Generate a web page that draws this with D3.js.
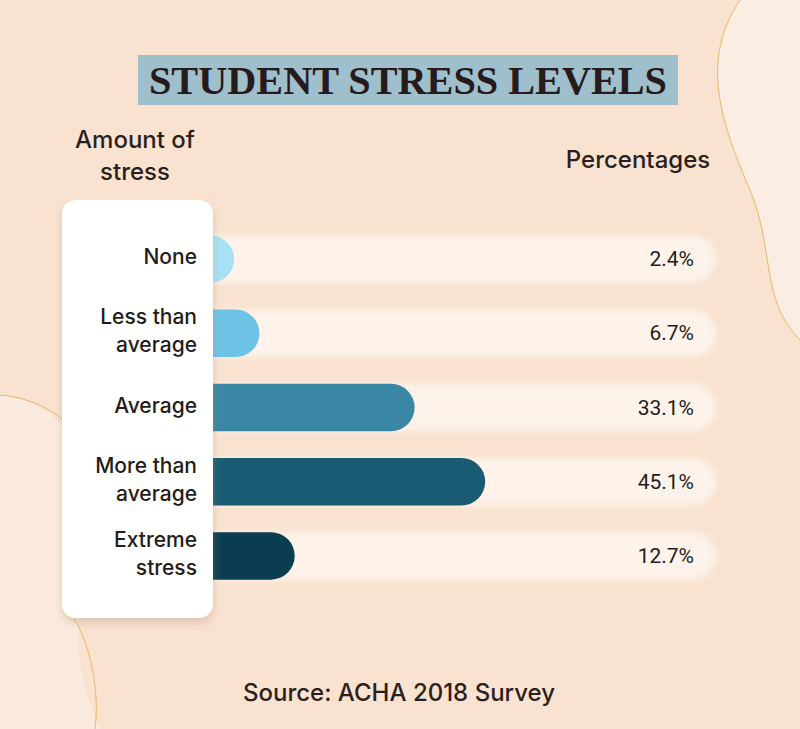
<!DOCTYPE html>
<html lang="en">
  <head>
    <meta charset="UTF-8" />
    <title>Student Stress Levels</title>
    <style>
      body { margin: 0; background: #f9e2d0; }
      svg { display: block; }
    </style>
  </head>
  <body>
    <div id="chart"></div>

    <script src="https://cdn.jsdelivr.net/npm/d3@7"></script>

    <script>
      // data
      const categories = ["None", "Less than average", "Average", "More than average", "Extreme stress"];
      const labelLines = [["None"], ["Less than", "average"], ["Average"], ["More than", "average"], ["Extreme", "stress"]];
      const values = [2.4, 6.7, 33.1, 45.1, 12.7];
      const barColors = ["#a8e1f6", "#6cc3e5", "#3a86a5", "#195b73", "#0b3d51"];

      const width = 800;
      const height = 729;
      const panelLeft = 62, panelRight = 213;
      const trackEnd = 716;

      const svg = d3.select("#chart").append("svg")
          .attr("width", width)
          .attr("height", height)
          .attr("viewBox", [0, 0, width, height]);

      const defs = svg.append("defs");
      const shadow = defs.append("filter").attr("id", "shadow")
          .attr("x", "-20%").attr("y", "-10%").attr("width", "140%").attr("height", "130%");
      shadow.append("feDropShadow")
          .attr("dx", 0).attr("dy", 5).attr("stdDeviation", 5)
          .attr("flood-color", "#b08a70").attr("flood-opacity", 0.35);
      const soft = defs.append("filter").attr("id", "soft");
      soft.append("feGaussianBlur").attr("stdDeviation", 3);

      // background with decorative blobs
      svg.append("rect").attr("width", width).attr("height", height).attr("fill", "#f9e2d0");
      svg.append("path")
          .attr("d", "M740,0 C700,60 720,120 750,190 C775,250 760,300 800,340 L800,0 Z")
          .attr("fill", "#fcede2");
      svg.append("path")
          .attr("d", "M0,395 C60,400 110,460 90,560 C75,620 70,660 100,729 L0,729 Z")
          .attr("fill", "#fbebdf");
      svg.append("path")
          .attr("d", "M740,0 C700,60 720,120 750,190 C775,250 760,300 800,340")
          .attr("fill", "none").attr("stroke", "#e6b86a").attr("stroke-width", 1);
      svg.append("path")
          .attr("d", "M0,395 C40,398 70,420 85,445")
          .attr("fill", "none").attr("stroke", "#e6b86a").attr("stroke-width", 1);
      svg.append("path")
          .attr("d", "M70,612 C90,640 100,690 95,729")
          .attr("fill", "none").attr("stroke", "#e6b86a").attr("stroke-width", 1);

      // title
      svg.append("rect")
          .attr("x", 138).attr("y", 55).attr("width", 540).attr("height", 50)
          .attr("fill", "#9fbfcc");
      svg.append("text")
          .attr("x", 408).attr("y", 94)
          .attr("text-anchor", "middle")
          .attr("font-family", "'Liberation Serif', 'DejaVu Serif', serif")
          .attr("font-weight", "bold")
          .attr("font-size", 40)
          .attr("textLength", 518)
          .attr("lengthAdjust", "spacingAndGlyphs")
          .attr("fill", "#261a1a")
          .text("STUDENT STRESS LEVELS");

      // column headers
      const header = svg.append("g")
          .attr("font-family", "Inter, 'Noto Sans', sans-serif")
          .attr("font-weight", 500)
          .attr("font-size", 24)
          .attr("fill", "#2a1f1c")
          .attr("text-anchor", "middle");
      header.append("text").attr("x", 135).attr("y", 148).text("Amount of");
      header.append("text").attr("x", 135).attr("y", 180).text("stress");
      header.append("text").attr("x", 638).attr("y", 168).text("Percentages");

      // scales
      const y = d3.scaleBand(categories, [222, 593]).paddingInner(0.36).paddingOuter(0.18);
      const x = d3.scaleLinear([0, 50], [220, 514]);
      const r = y.bandwidth() / 2;

      // tracks
      svg.append("g")
          .selectAll("rect")
          .data(categories)
          .join("rect")
            .attr("x", panelRight - 30)
            .attr("y", d => y(d))
            .attr("width", trackEnd - panelRight + 30)
            .attr("height", y.bandwidth())
            .attr("rx", r)
            .attr("fill", "#fdf3ea")
            .attr("filter", "url(#soft)");

      // value bars
      svg.append("g")
          .selectAll("rect")
          .data(values)
          .join("rect")
            .attr("x", panelRight - 30)
            .attr("y", (d, i) => y(categories[i]))
            .attr("width", d => x(d) - panelRight + 30)
            .attr("height", y.bandwidth())
            .attr("rx", r)
            .attr("fill", (d, i) => barColors[i]);

      // white label panel, covers the left end of the bars
      svg.append("rect")
          .attr("x", panelLeft).attr("y", 200)
          .attr("width", panelRight - panelLeft).attr("height", 418)
          .attr("rx", 14)
          .attr("fill", "#ffffff")
          .attr("filter", "url(#shadow)");

      // category labels
      const lh = 28;
      svg.append("g")
          .attr("font-family", "Inter, 'Noto Sans', sans-serif")
          .attr("font-weight", 500)
          .attr("font-size", 21)
          .attr("fill", "#231c1a")
          .attr("text-anchor", "end")
        .selectAll("text")
        .data(labelLines)
        .join("text")
          .attr("x", 197)
          .attr("y", (d, i) => y(categories[i]) + r - (d.length - 1) * lh / 2 + 5)
          .selectAll("tspan")
          .data(d => d)
          .join("tspan")
            .attr("x", 197)
            .attr("dy", (d, j) => j === 0 ? 0 : lh)
            .text(d => d);

      // value labels
      svg.append("g")
          .attr("font-family", "Roboto, 'Noto Sans', sans-serif")
          .attr("font-size", 21)
          .attr("fill", "#231c1a")
          .attr("text-anchor", "end")
        .selectAll("text")
        .data(values)
        .join("text")
          .attr("x", trackEnd - 22)
          .attr("y", (d, i) => y(categories[i]) + r + 7)
          .text(d => d.toFixed(1) + "%");

      // source
      svg.append("text")
          .attr("x", 399).attr("y", 701)
          .attr("text-anchor", "middle")
          .attr("font-family", "Inter, 'Noto Sans', sans-serif")
          .attr("font-weight", 500)
          .attr("font-size", 24)
          .attr("fill", "#2a1f1c")
          .text("Source: ACHA 2018 Survey");
    </script>
  </body>
</html>
